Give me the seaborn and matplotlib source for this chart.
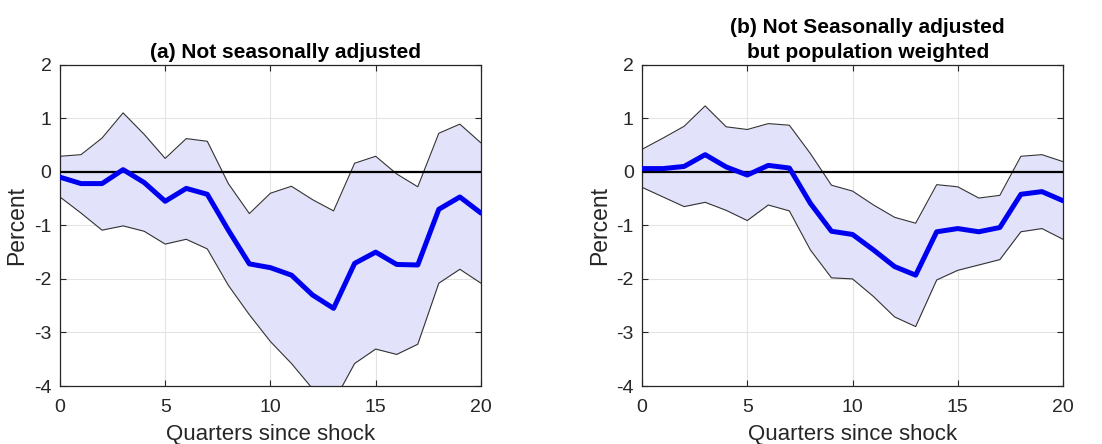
import numpy as np
import pandas as pd
import matplotlib
matplotlib.use("Agg")
import matplotlib.pyplot as plt
import seaborn as sns

quarters = list(range(21))

mean_a = [-0.10, -0.22, -0.22, 0.04, -0.20, -0.55, -0.31, -0.42, -1.09, -1.72, -1.79,
          -1.93, -2.30, -2.55, -1.71, -1.50, -1.73, -1.74, -0.70, -0.47, -0.77]
upper_a = [0.29, 0.32, 0.63, 1.10, 0.70, 0.25, 0.62, 0.57, -0.22, -0.78, -0.40,
           -0.27, -0.52, -0.73, 0.16, 0.29, -0.04, -0.28, 0.72, 0.89, 0.54]
lower_a = [-0.47, -0.77, -1.09, -1.01, -1.11, -1.35, -1.26, -1.44, -2.12, -2.67, -3.17,
           -3.58, -4.05, -4.30, -3.58, -3.31, -3.41, -3.22, -2.08, -1.82, -2.08]

mean_b = [0.06, 0.06, 0.10, 0.32, 0.09, -0.06, 0.12, 0.07, -0.59, -1.11, -1.17,
          -1.46, -1.77, -1.93, -1.12, -1.06, -1.12, -1.04, -0.42, -0.37, -0.54]
upper_b = [0.42, 0.63, 0.85, 1.23, 0.84, 0.79, 0.90, 0.87, 0.34, -0.25, -0.36,
           -0.62, -0.85, -0.96, -0.24, -0.28, -0.49, -0.44, 0.29, 0.32, 0.19]
lower_b = [-0.29, -0.47, -0.65, -0.57, -0.72, -0.91, -0.62, -0.73, -1.46, -1.98, -2.00,
           -2.33, -2.71, -2.89, -2.02, -1.84, -1.74, -1.64, -1.12, -1.06, -1.26]

titles = ["(a) Not seasonally adjusted", "(b) Not Seasonally adjusted\nbut population weighted"]
xticks = [0, 5, 10, 15, 20]
yticks = [-4, -3, -2, -1, 0, 1, 2]

sns.set_theme(style="white")
plt.rcParams['font.family'] = ['Liberation Sans', 'DejaVu Sans']
plt.rcParams['axes.unicode_minus'] = False

fig = plt.figure(figsize=(11.02, 4.44), dpi=100)
positions = [[0.0544, 0.1306, 0.382, 0.7237], [0.5826, 0.1306, 0.382, 0.7237]]

panels = [(mean_a, upper_a, lower_a), (mean_b, upper_b, lower_b)]
for pos, (m, u, l), title in zip(positions, panels, titles):
    ax = fig.add_axes(pos)
    df = pd.DataFrame({"q": quarters, "mean": m, "upper": u, "lower": l})
    ax.fill_between(df["q"], df["lower"], df["upper"], color="#e2e2fa", zorder=1, linewidth=0)
    sns.lineplot(data=df, x="q", y="upper", ax=ax, color="#333333", linewidth=0.8, zorder=2)
    sns.lineplot(data=df, x="q", y="lower", ax=ax, color="#333333", linewidth=0.8, zorder=2)
    ax.axhline(0, color="black", linewidth=1.6, zorder=3)
    sns.lineplot(data=df, x="q", y="mean", ax=ax, color="#0000f0", linewidth=3.6, zorder=4)
    ax.set_xlim(0, 20)
    ax.set_ylim(-4, 2)
    ax.set_xticks(xticks)
    ax.set_yticks(yticks)
    ax.grid(True, color="#e3e3e3", linewidth=0.8)
    ax.set_axisbelow(True)
    for s in ax.spines.values():
        s.set_color("#262626")
        s.set_linewidth(0.9)
    ax.tick_params(direction="in", length=4, width=0.8, color="#262626",
                   top=True, right=True, bottom=True, left=True,
                   labelsize=14, labelcolor="#262626")
    ax.tick_params(axis="x", pad=9)
    ax.tick_params(axis="y", pad=6)
    ax.set_xlabel("Quarters since shock", fontsize=16, color="#262626", labelpad=6)
    ax.set_ylabel("Percent", fontsize=16.5, color="#262626", labelpad=4)
    ax.set_title(title, fontsize=15, fontweight="bold", color="black", pad=5,
                 linespacing=1.4, x=0.536)

fig.savefig("out.png", dpi=100)
